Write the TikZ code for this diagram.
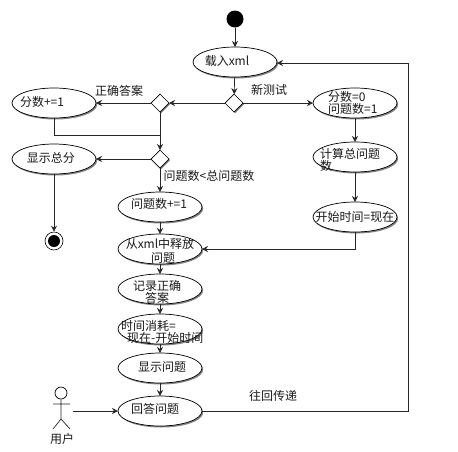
\documentclass[tikz,border=0pt]{standalone}
\usepackage{fontspec}
\setmainfont{Noto Sans CJK SC}
\usetikzlibrary{shapes.geometric,arrows.meta,shadows}
\tikzset{
  act/.style={ellipse,draw=black,fill=white,line width=0.7pt,minimum width=84pt,minimum height=30pt,inner sep=0pt,outer sep=0pt,
     drop shadow={shadow xshift=1.2pt,shadow yshift=-1.5pt,fill=black!60,opacity=0.8}},
  gate/.style={diamond,draw=black,fill=white,line width=0.7pt,minimum width=18pt,minimum height=18pt,inner sep=0pt,outer sep=0pt,
     drop shadow={shadow xshift=1.2pt,shadow yshift=-1.2pt,fill=black!60,opacity=0.8}},
  conn/.style={draw=black!85,line width=0.7pt,-{Stealth[length=6pt,width=6pt]}},
  plain/.style={draw=black!85,line width=0.7pt},
  txt/.style={font=\fontsize{12}{13}\selectfont,inner sep=0pt,text=black!90,anchor=center},
  ltxt/.style={txt,anchor=west}
}
\begin{document}
\begin{tikzpicture}[x=1pt,y=-1pt]
\useasboundingbox (0,0) rectangle (458,451);
\node[circle,fill=black,minimum size=17pt,inner sep=0pt] (start) at (235,19) {};
\node[act] (load) at (235,62) {};
\node[gate] (d1) at (234,103) {};
\node[gate] (d2) at (160,103) {};
\node[gate] (d3) at (160,159) {};
\node[act] (inc) at (54,103) {};
\node[act] (total) at (54,159) {};
\node[act] (qinc) at (160,207) {};
\node[act] (release) at (160,249) {};
\node[act] (record) at (160,289) {};
\node[act] (elapsed) at (160,329) {};
\node[act] (show) at (160,368) {};
\node[act] (answer) at (160,411) {};
\node[act] (init) at (355,103) {};
\node[act] (count) at (355,157) {};
\node[act] (time) at (355,217) {};
\node[circle,draw=black,fill=white,minimum size=18pt,inner sep=0pt,line width=0.6pt] (endo) at (54,241) {};
\node[circle,fill=black,minimum size=12pt,inner sep=0pt] (endi) at (54,241) {};
% actor
\node[circle,draw=black,fill=white,minimum size=12pt,inner sep=0pt,line width=0.7pt] (head) at (61,393) {};
\coordinate (hip) at (61,419);
\coordinate (armL) at (53,404);
\coordinate (armR) at (70,404);
\coordinate (legL) at (53,429);
\coordinate (legR) at (70,429);
\coordinate (hand) at (73,411);
\draw[plain] (head.south) -- (hip) (armL) -- (armR) (legL) -- (hip) -- (legR);
% connectors
\coordinate (rtop) at (408,63);
\coordinate (rbot) at (408,411);
\coordinate (tb) at (355,249);
\coordinate (joinL) at (54,135);
\coordinate (joinR) at (160,135);
\draw[conn] (start) -- (load);
\draw[conn] (load) -- (d1);
\draw[conn] (d1) -- (d2);
\draw[conn] (d2) -- (inc);
\draw[conn] (d1) -- (init);
\draw[conn] (init) -- (count);
\draw[conn] (count) -- (time);
\draw[conn] (time) -- (tb) -- (release);
\draw[plain] (inc) -- (joinL) -- (joinR);
\draw[conn] (d2) -- (d3);
\draw[conn] (d3) -- (total);
\draw[conn] (total) -- (endo);
\draw[conn] (d3) -- (qinc);
\draw[conn] (qinc) -- (release);
\draw[conn] (release) -- (record);
\draw[conn] (record) -- (elapsed);
\draw[conn] (elapsed) -- (show);
\draw[conn] (show) -- (answer);
\draw[conn] (hand) -- (answer);
\draw[conn] (answer) -- (rbot) -- (rtop) -- (load.east |- rtop);
% texts
\node[txt] (t1) at (227,61) {载入xml};
\node[txt] (t2) at (42,102) {分数+=1};
\node[txt] (t3) at (51,158) {显示总分};
\node[txt] (t4) at (159,204) {问题数+=1};
\node[ltxt] (t5) at (328,97) {分数=0};
\node[ltxt] (t6) at (328,109) {问题数=1};
\node[ltxt] (t7) at (320,154) {计算总问题};
\node[ltxt] (t8) at (320,166) {数};
\node[txt] (t9) at (355,217) {开始时间=现在};
\node[txt] (t10) at (160,244) {从xml中释放};
\node[txt] (t11) at (163,258) {问题};
\node[txt] (t12) at (157,286) {记录正确};
\node[txt] (t13) at (157,298) {答案};
\node[ltxt] (t14) at (121,326) {时间消耗=};
\node[ltxt] (t15) at (127,338) {现在-开始时间};
\node[txt] (t16) at (162,367) {显示问题};
\node[txt] (t17) at (155,409) {回答问题};
\node[txt] (t18) at (62,439) {用户};
\node[txt] (t19) at (119,91) {正确答案};
\node[txt] (t20) at (269,90) {新测试};
\node[txt] (t21) at (209,176) {问题数<总问题数};
\node[txt] (t22) at (273,396) {往回传递};
\end{tikzpicture}
\end{document}
